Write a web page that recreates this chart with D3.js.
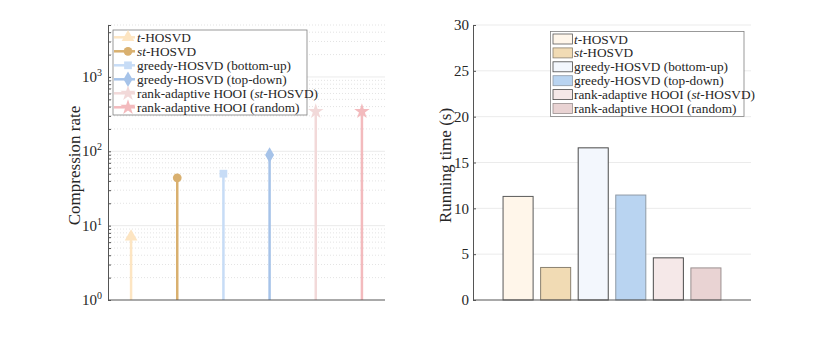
<!DOCTYPE html>
<html>
<head>
<meta charset="utf-8">
<script src="https://cdn.jsdelivr.net/npm/d3@7"></script>
<style>
  body { margin: 0; background: #fff; }
  svg text { font-family: "Liberation Serif", "DejaVu Serif", serif; fill: #262626; }
</style>
</head>
<body>
<svg id="chart" width="830" height="338"></svg>
<script>
// categories / legend names (italic parts marked with *...*)
const methods = ["*t*-HOSVD", "*st*-HOSVD", "greedy-HOSVD (bottom-up)", "greedy-HOSVD (top-down)",
                 "rank-adaptive HOOI (*st*-HOSVD)", "rank-adaptive HOOI (random)"];
const compressionRate = [7.1, 44, 50, 89, 344, 344];
const runningTime = [11.3, 3.55, 16.6, 11.45, 4.6, 3.5];
const logTicks = [1, 10, 100, 1000];
const timeTicks = [0, 5, 10, 15, 20, 25, 30];
const stemColors = ["#fde5c2", "#d9b06f", "#c7dcf6", "#a6c3e9", "#f2d9d9", "#f3babd"];
const stemMarkers = ["triangle", "circle", "square", "diamond", "star", "star"];
const barColors = ["#fff6ea", "#f1dbb4", "#f3f7fd", "#b9d4f1", "#f5e8e8", "#e9d3d3"];
const barEdges = ["#5a5a5a", "#8a8070", "#4a4a4a", "#8f9aa6", "#4a4a4a", "#9a9090"];

const svg = d3.select("#chart");

function richText(sel, s) {
  s.split("*").forEach((part, i) => {
    if (part === "") return;
    sel.append("tspan").text(part).style("font-style", i % 2 ? "italic" : "normal");
  });
}

function marker(type) {
  const m = {triangle: d3.symbolTriangle, circle: d3.symbolCircle, square: d3.symbolSquare,
             diamond: d3.symbolDiamond, star: d3.symbolStar}[type];
  const size = {triangle: 70, circle: 60, square: 60, diamond: 70, star: 75}[type];
  return d3.symbol().type(m).size(size)();
}

// ---------- left: compression rate (stem, log y) ----------
const L = {x0: 108, x1: 385, y0: 300, y1: 25};
const xL = d3.scaleLinear().domain([0.5, 6.5]).range([L.x0, L.x1]);
const yL = d3.scaleLog().domain([1, 5000]).range([L.y0, L.y1]);

const gL = svg.append("g");
// minor grid (dotted) and major grid
const minors = [];
for (let dec = 1; dec <= 1000; dec *= 10)
  for (let k = 2; k <= 9; k++) if (dec * k <= 5000) minors.push(dec * k);
gL.selectAll(".minor").data(minors).join("line")
  .attr("x1", L.x0).attr("x2", L.x1)
  .attr("y1", d => yL(d)).attr("y2", d => yL(d))
  .attr("stroke", "#dcdcdc").attr("stroke-width", 0.8).attr("stroke-dasharray", "1,2");
gL.selectAll(".major").data(logTicks.slice(1)).join("line")
  .attr("x1", L.x0).attr("x2", L.x1)
  .attr("y1", d => yL(d)).attr("y2", d => yL(d))
  .attr("stroke", "#ebebeb").attr("stroke-width", 1);

// stems
methods.forEach((m, i) => {
  gL.append("line")
    .attr("x1", xL(i + 1)).attr("x2", xL(i + 1))
    .attr("y1", yL(1)).attr("y2", yL(compressionRate[i]))
    .attr("stroke", stemColors[i]).attr("stroke-width", 2.5);
  gL.append("path")
    .attr("d", marker(stemMarkers[i]))
    .attr("transform", `translate(${xL(i + 1)},${yL(compressionRate[i])})`)
    .attr("fill", stemColors[i]);
});

// axes
gL.append("g").attr("transform", `translate(${L.x0},0)`)
  .call(d3.axisLeft(yL).tickValues(minors.concat(logTicks)).tickSizeInner(-3).tickSizeOuter(0).tickFormat(""))
  .call(g => g.select(".domain").attr("stroke", "#555"))
  .call(g => g.selectAll(".tick line").attr("stroke", "#555"));
logTicks.forEach(t => {
  const txt = gL.append("text").attr("x", L.x0 - 6).attr("y", yL(t) + 5)
    .attr("text-anchor", "end").style("font-size", "15px");
  txt.append("tspan").text("10");
  txt.append("tspan").text(Math.log10(t)).attr("dy", -6).style("font-size", "10px");
});
gL.append("line").attr("x1", L.x0).attr("x2", L.x1).attr("y1", L.y0).attr("y2", L.y0)
  .attr("stroke", "#555");
gL.append("text").attr("transform", `translate(80,${(L.y0 + L.y1) / 2 + 3}) rotate(-90)`)
  .attr("text-anchor", "middle").style("font-size", "17px").text("Compression rate");

// legend left
const legL = gL.append("g");
legL.append("rect").attr("x", 113).attr("y", 30).attr("width", 194).attr("height", 85)
  .attr("fill", "#fff").attr("stroke", "#808080").attr("stroke-width", 0.8);
methods.forEach((m, i) => {
  const y = 37.3 + i * 14;
  legL.append("line").attr("x1", 114).attr("x2", 135).attr("y1", y).attr("y2", y)
    .attr("stroke", stemColors[i]).attr("stroke-width", 2.5);
  legL.append("path").attr("d", marker(stemMarkers[i]))
    .attr("transform", `translate(128,${y})`).attr("fill", stemColors[i]);
  const t = legL.append("text").attr("x", 137).attr("y", y + 4.5).style("font-size", "13.3px");
  richText(t, m);
});

// ---------- right: running time (bars) ----------
const R = {x0: 473, x1: 751, y0: 300, y1: 25};
const xR = d3.scaleLinear().domain([-0.2, 7.2]).range([R.x0, R.x1]);
const yR = d3.scaleLinear().domain([0, 30]).range([R.y0, R.y1]);
const gR = svg.append("g");
gR.selectAll(".grid").data(timeTicks.slice(1)).join("line")
  .attr("x1", R.x0).attr("x2", R.x1)
  .attr("y1", d => yR(d)).attr("y2", d => yR(d))
  .attr("stroke", "#ebebeb").attr("stroke-width", 1);
const bw = xR(0.8) - xR(0);
gR.selectAll(".bar").data(runningTime).join("rect")
  .attr("x", (d, i) => xR(i + 1) - bw / 2)
  .attr("y", d => yR(d))
  .attr("width", bw)
  .attr("height", d => yR(0) - yR(d))
  .attr("fill", (d, i) => barColors[i])
  .attr("stroke", (d, i) => barEdges[i]).attr("stroke-width", 1);
gR.append("g").attr("transform", `translate(${R.x0},0)`)
  .call(d3.axisLeft(yR).tickValues(timeTicks).tickSizeInner(-3).tickSizeOuter(0).tickPadding(4))
  .call(g => g.select(".domain").attr("stroke", "#555"))
  .call(g => g.selectAll(".tick line").attr("stroke", "#555"))
  .call(g => g.selectAll(".tick text").style("font-size", "15px")
    .style("font-family", "Liberation Serif, serif").attr("fill", "#262626"));
gR.append("line").attr("x1", R.x0).attr("x2", R.x1).attr("y1", R.y0).attr("y2", R.y0)
  .attr("stroke", "#555");
gR.append("text").attr("transform", `translate(451,${(R.y0 + R.y1) / 2 + 3}) rotate(-90)`)
  .attr("text-anchor", "middle").style("font-size", "17px").text("Running time (s)");

// legend right
const legR = gR.append("g");
legR.append("rect").attr("x", 550.5).attr("y", 31.5).attr("width", 193.5).attr("height", 85)
  .attr("fill", "#fff").attr("stroke", "#808080").attr("stroke-width", 0.8);
methods.forEach((m, i) => {
  const y = 39 + i * 13.9;
  legR.append("rect").attr("x", 553).attr("y", y - 5).attr("width", 19.5).attr("height", 10)
    .attr("fill", barColors[i]).attr("stroke", barEdges[i]).attr("stroke-width", 0.8);
  const t = legR.append("text").attr("x", 574).attr("y", y + 4.5).style("font-size", "13.3px");
  richText(t, m);
});
</script>
</body>
</html>
